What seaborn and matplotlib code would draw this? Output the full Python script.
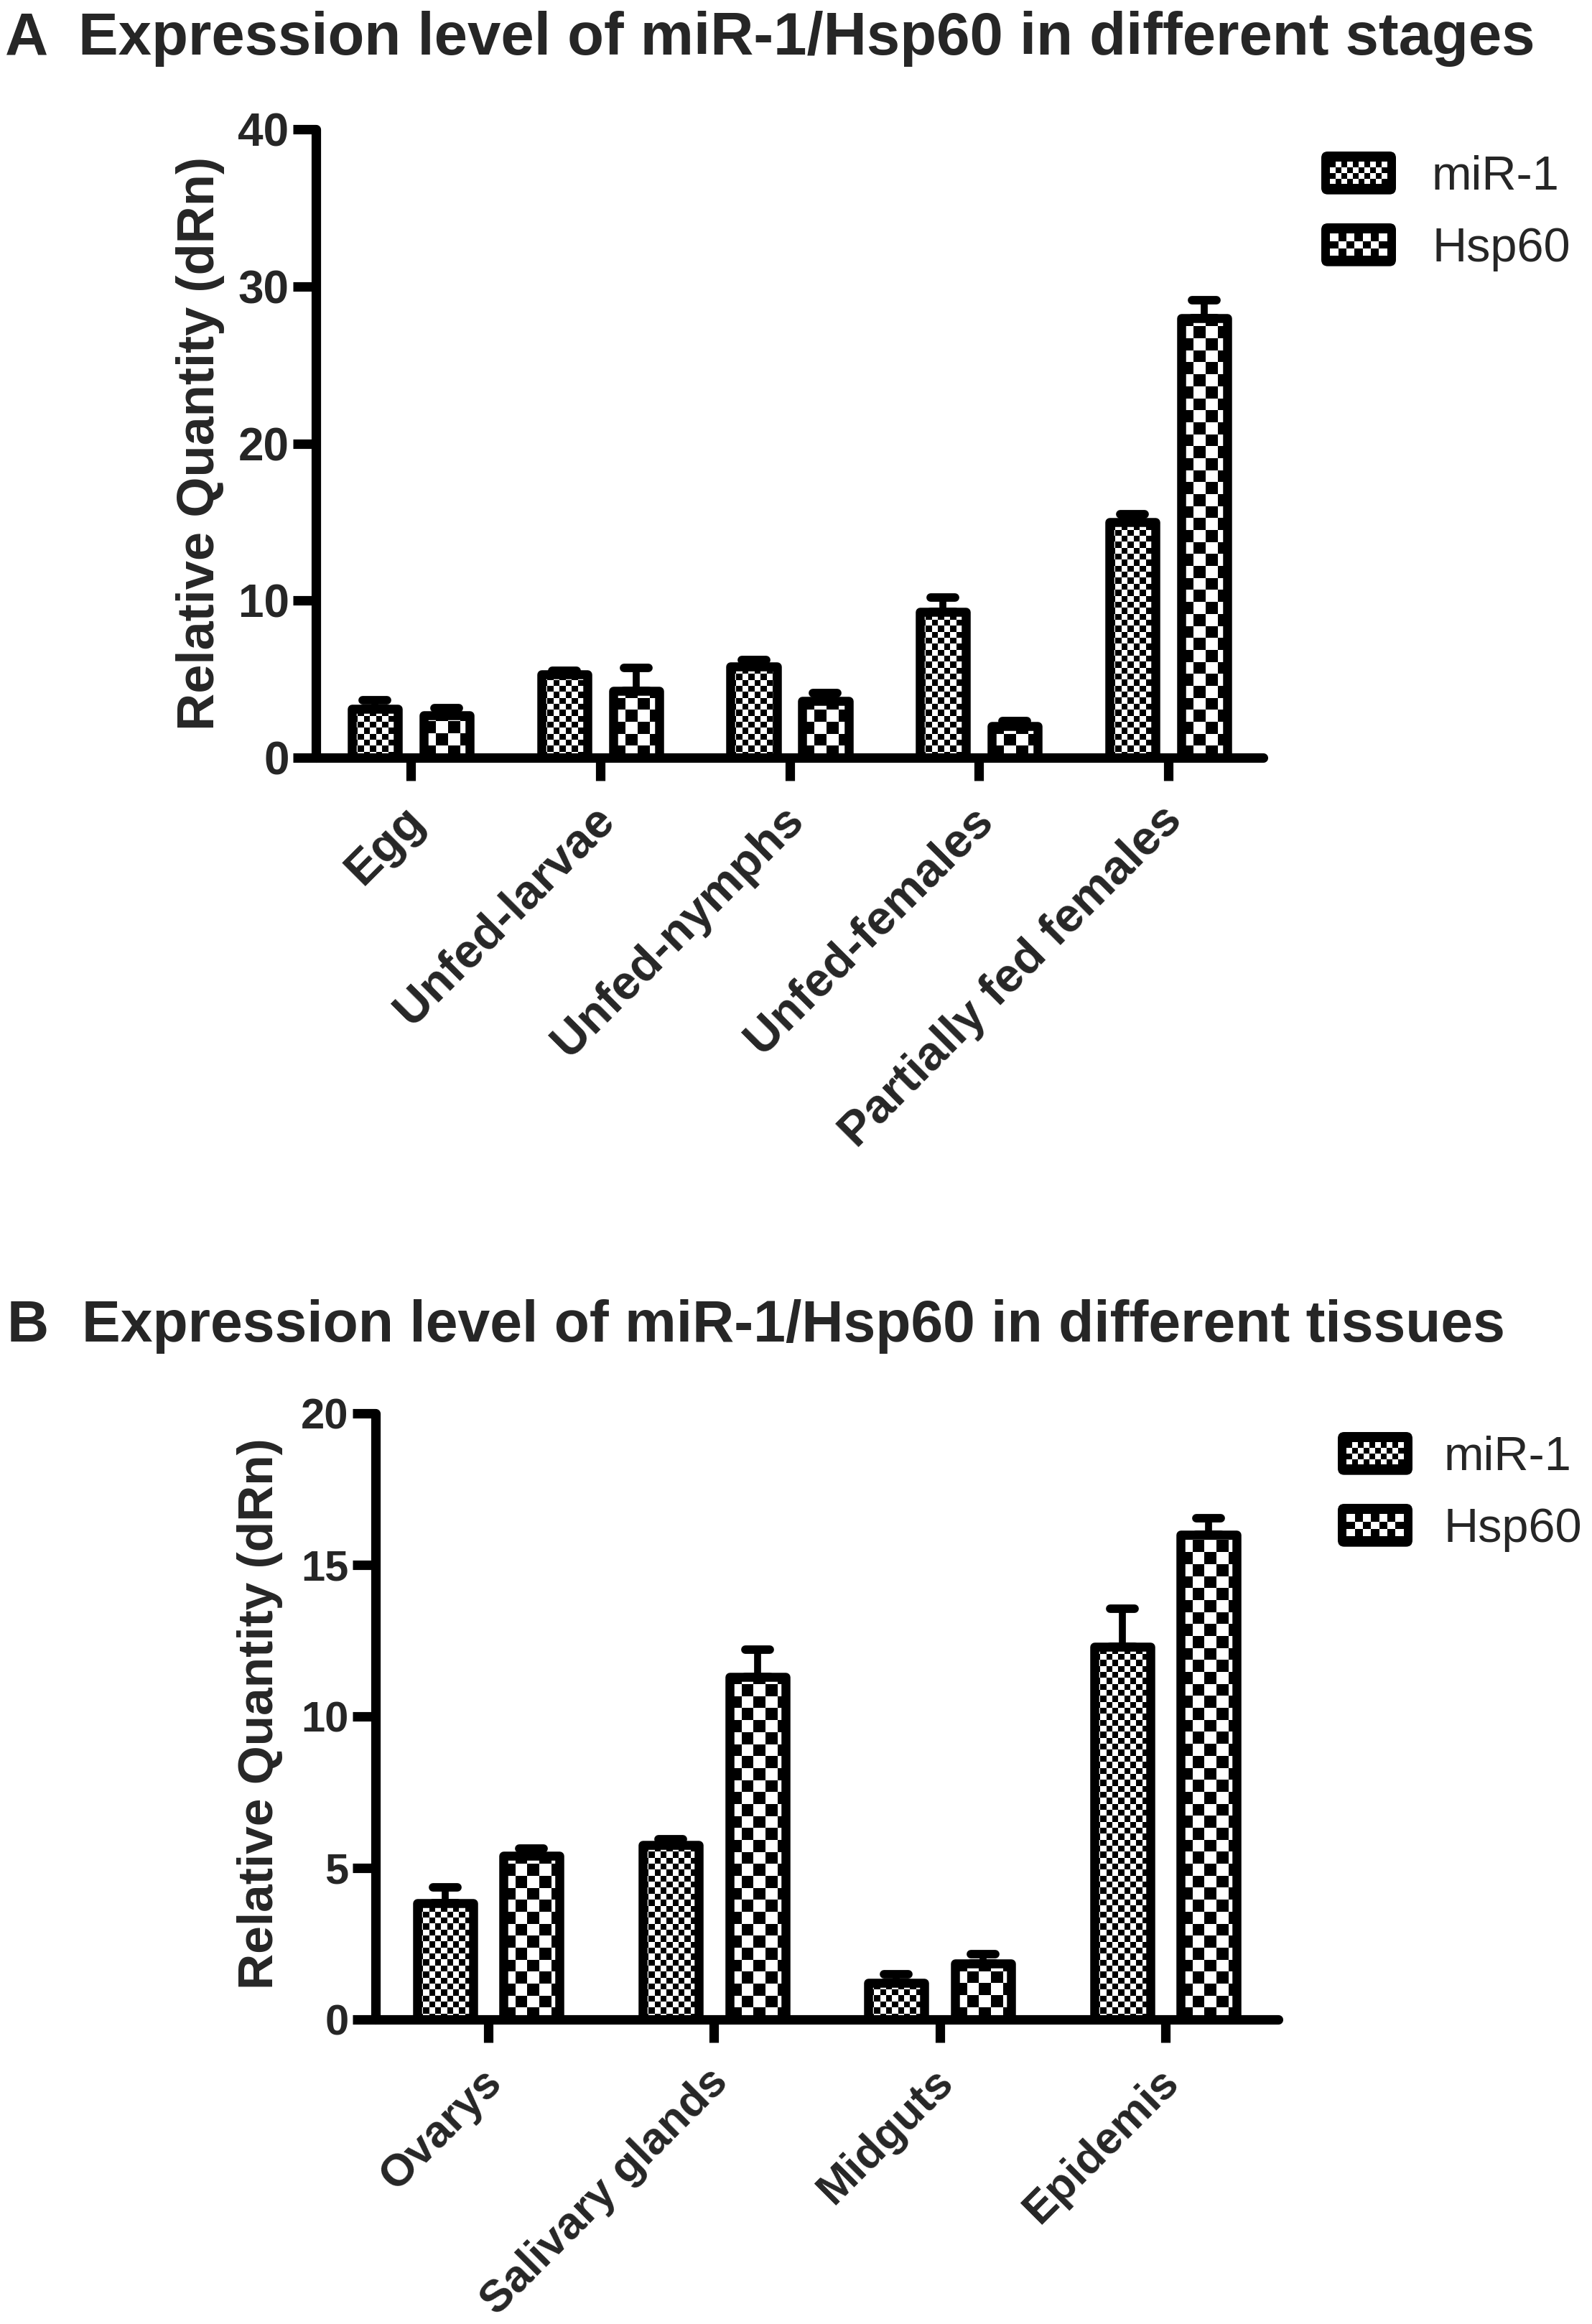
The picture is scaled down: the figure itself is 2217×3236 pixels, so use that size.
import numpy as np
import pandas as pd
import matplotlib
matplotlib.use("Agg")
import matplotlib.pyplot as plt
import matplotlib.transforms as mtransforms
import seaborn as sns
from matplotlib.patches import Rectangle, FancyBboxPatch
from matplotlib.legend_handler import HandlerBase
from matplotlib.container import BarContainer
from matplotlib.markers import MarkerStyle

# ---------------- data ----------------
series = ["miR-1", "Hsp60"]

stages = ["Egg", "Unfed-larvae", "Unfed-nymphs", "Unfed-females", "Partially fed females"]
stage_mir1 = [3.1, 5.3, 5.8, 9.3, 15.0]
stage_mir1_err = [0.55, 0.25, 0.4, 0.9, 0.5]
stage_hsp60 = [2.7, 4.25, 3.6, 2.0, 28.0]
stage_hsp60_err = [0.45, 1.45, 0.5, 0.35, 1.1]
stage_yticks = [0, 10, 20, 30, 40]

tissues = ["Ovarys", "Salivary glands", "Midguts", "Epidemis"]
tissue_mir1 = [3.85, 5.75, 1.2, 12.3]
tissue_mir1_err = [0.5, 0.2, 0.3, 1.25]
tissue_hsp60 = [5.4, 11.3, 1.85, 16.0]
tissue_hsp60_err = [0.25, 0.9, 0.3, 0.55]
tissue_yticks = [0, 5, 10, 15, 20]

title_a = "Expression level of miR-1/Hsp60 in different stages"
title_b = "Expression level of miR-1/Hsp60 in different tissues"
ylabel = "Relative Quantity (dRn)"

# ---------------- style ----------------
sns.set_theme(style="white")
plt.rcParams["font.family"] = ["Liberation Sans", "DejaVu Sans"]

W, H = 2217, 3236
DPI = 100
fig = plt.figure(figsize=(W / DPI, H / DPI), dpi=DPI)
fig.patch.set_facecolor("white")

LW_SPINE = 9.5
LW_BAR = 9


def checker_fill(ax, patch, cell_px):
    T = ax.transData
    x0, y0 = patch.get_x(), patch.get_y()
    w, h = patch.get_width(), patch.get_height()
    px0, py0 = T.transform((x0, y0))
    px1, py1 = T.transform((x0 + w, y0 + h))
    ncols = int(np.ceil((px1 - px0) / cell_px)) + 1
    nrows = int(np.ceil((py1 - py0) / cell_px)) + 1
    arr = (np.add.outer(np.arange(nrows), np.arange(ncols)) % 2).astype(float)
    xe, ye = T.inverted().transform((px0 + ncols * cell_px, py0 + nrows * cell_px))
    im = ax.imshow(arr, cmap="gray", vmin=0, vmax=1, extent=(x0, xe, y0, ye),
                   origin="lower", interpolation="nearest", aspect="auto", zorder=2)
    im.set_clip_path(patch)


class CheckerHandler(HandlerBase):
    def __init__(self, ncols, nrows):
        super().__init__()
        self.ncols = ncols
        self.nrows = nrows

    def create_artists(self, legend, orig_handle, xdescent, ydescent, width, height, fontsize, trans):
        arts = []
        x0, y0 = -xdescent, -ydescent
        bg = FancyBboxPatch((x0, y0), width, height,
                            boxstyle="round,pad=0,rounding_size=%f" % (height * 0.15),
                            facecolor="black", edgecolor="black", linewidth=0, transform=trans)
        arts.append(bg)
        mx, my = width * 0.12, height * 0.24
        iw, ih = width - 2 * mx, height - 2 * my
        cw, ch = iw / self.ncols, ih / self.nrows
        for r in range(self.nrows):
            for c in range(self.ncols):
                if (r + c) % 2 == 0:
                    arts.append(Rectangle((x0 + mx + c * cw, y0 + my + r * ch), cw, ch,
                                          facecolor="white", edgecolor="none", transform=trans))
        return arts


def panel(rect, cats, v1, e1, v2, e2, yticks, width, gap, cells, xfs, yfs, ylfs,
          ylabel_xy, legend_xy, legend_cells, textpad):
    ax = fig.add_axes(rect)
    n = len(cats)
    df = pd.DataFrame({
        "cat": cats * 2,
        "series": [series[0]] * n + [series[1]] * n,
        "val": list(v1) + list(v2),
    })
    sns.barplot(data=df, x="cat", y="val", hue="series", order=cats, hue_order=series,
                width=width, gap=gap, palette=["white", "white"], saturation=1,
                edgecolor="black", linewidth=LW_BAR, errorbar=None, legend=False, ax=ax)
    ax.set_xlim(-0.5, n - 0.5)
    ax.set_ylim(yticks[0], yticks[-1])
    errs = [e1, e2]
    bar_conts = [c for c in ax.containers if isinstance(c, BarContainer)]
    for i, cont in enumerate(bar_conts):
        xs, tops = [], []
        for p in cont.patches:
            p.set_facecolor("none")
            p.set_zorder(3)
            p.set_joinstyle("round")
            xs.append(p.get_x() + p.get_width() / 2)
            tops.append(p.get_height())
            checker_fill(ax, p, cells[i])
        eb = ax.errorbar(xs, tops, yerr=[np.zeros(n), errs[i]], fmt="none", ecolor="black",
                         elinewidth=7, capsize=12, capthick=8.5, zorder=4)
        for lc in eb.lines[2]:
            lc.set_capstyle("round")
        for cl in eb.lines[1]:
            cl.set_marker(MarkerStyle("_", capstyle="round"))
    ax.set_xlim(-0.5, n - 0.5)
    ax.set_ylim(yticks[0], yticks[-1])

    sns.despine(ax=ax)
    for s in ["left", "bottom"]:
        ax.spines[s].set_linewidth(LW_SPINE)
        ax.spines[s].set_color("black")
        ax.spines[s].set_capstyle("round")
    ax.set_yticks(yticks)
    ax.set_yticklabels([str(t) for t in yticks], fontsize=yfs, fontweight="bold")
    ax.tick_params(axis="y", direction="out", length=23, width=LW_SPINE, color="black", pad=4, left=True)
    ax.tick_params(axis="x", direction="out", length=23, width=LW_SPINE, color="black", pad=36, bottom=True)
    ax.set_xticks(range(n))
    ax.set_xticklabels(cats, rotation=45, ha="right", va="center", rotation_mode="anchor",
                       fontsize=xfs, fontweight="bold")
    off = mtransforms.ScaledTranslation(7 / 72, 3 / 72, fig.dpi_scale_trans)
    for lab in ax.get_xticklabels():
        lab.set_transform(lab.get_transform() + off)
    ax.set_xlabel("")
    ax.set_ylabel(ylabel, fontsize=ylfs, fontweight="bold")
    ax.yaxis.set_label_coords(*ylabel_xy)
    ax.set_facecolor("white")
    ax.grid(False)

    handles = [Rectangle((0, 0), 1, 1), Rectangle((0, 0), 1, 1)]
    ax.legend(handles, series, loc="upper left",
              bbox_to_anchor=legend_xy, bbox_transform=fig.transFigure,
              frameon=False, fontsize=48, handlelength=1.56, handleheight=1.0,
              handletextpad=textpad, labelspacing=0.5, borderpad=0, borderaxespad=0,
              handler_map={handles[0]: CheckerHandler(*legend_cells[0]),
                           handles[1]: CheckerHandler(*legend_cells[1])})
    return ax


# Panel A  (x ticks every 263.75 px, y from 1055 (0) to 180 (40))
panel([440 / W, 1 - 1055 / H, 1319 / W, (1055 - 180) / H],
      stages, stage_mir1, stage_mir1_err, stage_hsp60, stage_hsp60_err,
      stage_yticks, width=0.758, gap=0.359, cells=[8.33, 16.67], xfs=48, yfs=46, ylfs=52,
      ylabel_xy=(-0.096, 0.5), legend_xy=(1840 / W, 1 - 211 / H),
      legend_cells=[(10, 4), (7, 3)], textpad=0.75)

# Panel B  (x ticks every 314.3 px, y from 2812 (0) to 1968 (20))
panel([523 / W, 1 - 2812 / H, 1257 / W, (2812 - 1968) / H],
      tissues, tissue_mir1, tissue_mir1_err, tissue_hsp60, tissue_hsp60_err,
      tissue_yticks, width=0.767, gap=0.353, cells=[8.33, 16.67], xfs=45, yfs=43, ylfs=50,
      ylabel_xy=(-0.103, 0.505), legend_xy=(1863 / W, 1 - 1994 / H),
      legend_cells=[(10, 4), (7, 3)], textpad=0.65)

# Titles
fig.text(7 / W, 1 - 76 / H, "A", fontsize=60, fontweight="bold", va="baseline", ha="left")
fig.text(109 / W, 1 - 76 / H, title_a, fontsize=60, fontweight="bold", va="baseline", ha="left")
fig.text(10 / W, 1 - 1868 / H, "B", fontsize=58, fontweight="bold", va="baseline", ha="left")
fig.text(114 / W, 1 - 1868 / H, title_b, fontsize=58, fontweight="bold", va="baseline", ha="left")

fig.savefig("out.png", dpi=DPI, facecolor="white")
